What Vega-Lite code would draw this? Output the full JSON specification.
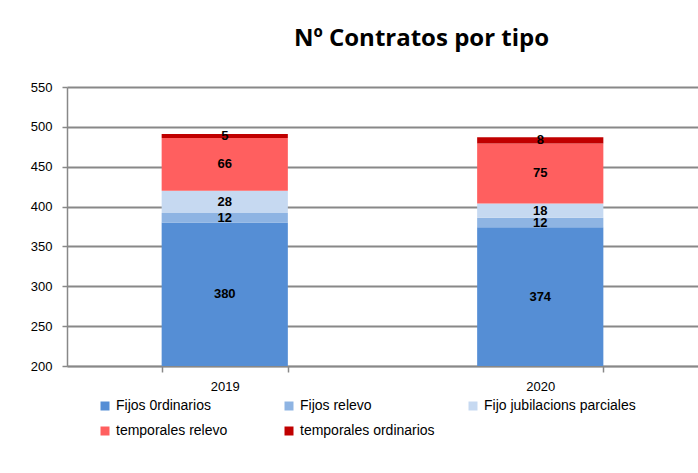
{
  "$schema": "https://vega.github.io/schema/vega-lite/v6.json",
  "autosize": {"type": "none"},
  "width": 631,
  "height": 279,
  "padding": {"left": 67, "top": 87, "right": 0, "bottom": 107},
  "background": "white",
  "title": {
    "text": "Nº Contratos por tipo",
    "anchor": "middle",
    "dx": 39,
    "offset": 30,
    "fontSize": 24,
    "font": "Open Sans",
    "fontWeight": "bold",
    "color": "#000000"
  },
  "config": {
    "view": {"stroke": null},
    "font": "Liberation Sans",
    "axis": {"labelFont": "Liberation Sans", "labelFontSize": 13, "labelColor": "#000000"}
  },
  "data": {
    "values": [
      {"year": "2019", "tipo": "Fijos 0rdinarios", "ord": 1, "n": 380},
      {"year": "2019", "tipo": "Fijos relevo", "ord": 2, "n": 12},
      {"year": "2019", "tipo": "Fijo jubilacions parciales", "ord": 3, "n": 28},
      {"year": "2019", "tipo": "temporales relevo", "ord": 4, "n": 66},
      {"year": "2019", "tipo": "temporales ordinarios", "ord": 5, "n": 5},
      {"year": "2020", "tipo": "Fijos 0rdinarios", "ord": 1, "n": 374},
      {"year": "2020", "tipo": "Fijos relevo", "ord": 2, "n": 12},
      {"year": "2020", "tipo": "Fijo jubilacions parciales", "ord": 3, "n": 18},
      {"year": "2020", "tipo": "temporales relevo", "ord": 4, "n": 75},
      {"year": "2020", "tipo": "temporales ordinarios", "ord": 5, "n": 8}
    ]
  },
  "transform": [
    {"stack": "n", "groupby": ["year"], "sort": [{"field": "ord"}], "as": ["y0", "y1"]},
    {"calculate": "(max(datum.y0, 200) + datum.y1) / 2", "as": "ymid"}
  ],
  "encoding": {
    "x": {
      "field": "year",
      "type": "nominal",
      "title": null,
      "scale": {"paddingInner": 0.6, "paddingOuter": 0.3},
      "axis": {
        "labelAngle": 0,
        "tickBand": "extent",
        "domainColor": "#888888",
        "domainWidth": 1.5,
        "tickColor": "#888888",
        "tickWidth": 1.5,
        "tickSize": 6,
        "labelPadding": 8
      }
    }
  },
  "layer": [
    {
      "mark": {"type": "bar", "clip": true},
      "encoding": {
        "y": {
          "field": "y0",
          "type": "quantitative",
          "title": null,
          "scale": {"domain": [200, 550], "nice": false, "zero": false},
          "axis": {
            "values": [200, 250, 300, 350, 400, 450, 500, 550],
            "labelOverlap": false,
            "grid": true,
            "gridColor": "#888888",
            "gridWidth": 2,
            "domainColor": "#888888",
            "domainWidth": 1.5,
            "tickColor": "#888888",
            "tickWidth": 1.5,
            "tickSize": 5,
            "labelPadding": 10
          }
        },
        "y2": {"field": "y1"},
        "color": {
          "field": "tipo",
          "type": "nominal",
          "sort": ["Fijos 0rdinarios", "Fijos relevo", "Fijo jubilacions parciales", "temporales relevo", "temporales ordinarios"],
          "scale": {
            "domain": ["Fijos 0rdinarios", "Fijos relevo", "Fijo jubilacions parciales", "temporales relevo", "temporales ordinarios"],
            "range": ["#558ED5", "#8EB4E3", "#C6D9F1", "#FF5F5F", "#C00000"]
          },
          "legend": {
            "title": null,
            "orient": "none",
            "legendX": 31,
            "legendY": 312,
            "direction": "horizontal",
            "columns": 3,
            "gridAlign": "all",
            "columnPadding": 14,
            "rowPadding": 11,
            "symbolType": "square",
            "symbolSize": 81,
            "symbolStrokeWidth": 0,
            "symbolOffset": 0,
            "labelOffset": 4,
            "labelFontSize": 14,
            "labelFont": "Liberation Sans",
            "labelColor": "#000000",
            "labelLimit": 300
          }
        }
      }
    },
    {
      "mark": {"type": "text", "fontWeight": "bold", "fontSize": 13, "font": "Liberation Sans", "color": "#000000", "baseline": "middle"},
      "encoding": {
        "y": {
          "field": "ymid",
          "type": "quantitative",
          "axis": {
            "values": [200, 250, 300, 350, 400, 450, 500, 550],
            "labelOverlap": false,
            "grid": true,
            "gridColor": "#888888",
            "gridWidth": 2,
            "domainColor": "#888888",
            "domainWidth": 1.5,
            "tickColor": "#888888",
            "tickWidth": 1.5,
            "tickSize": 5,
            "labelPadding": 10
          }
        },
        "text": {"field": "n", "type": "quantitative"}
      }
    }
  ]
}
